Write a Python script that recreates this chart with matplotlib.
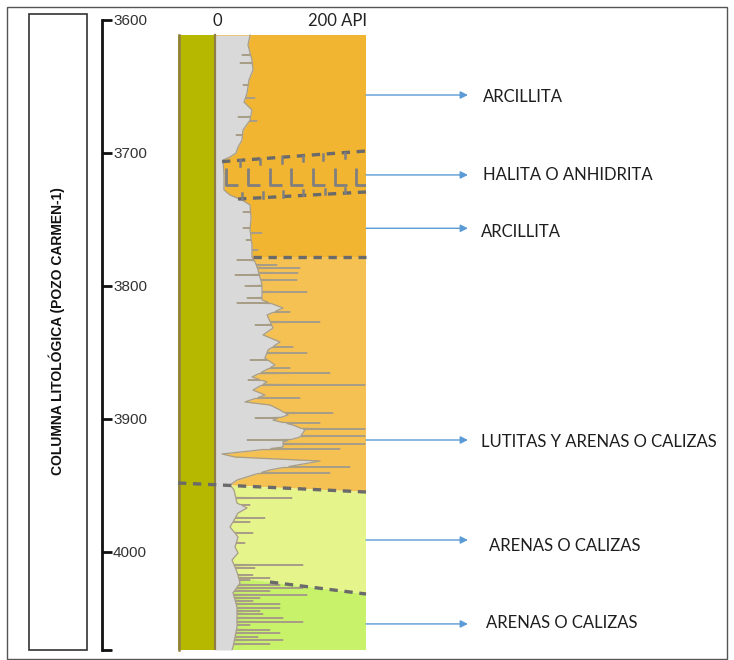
import matplotlib
matplotlib.use('Agg')
import matplotlib.pyplot as plt
from matplotlib.patches import Rectangle
import numpy as np

W, H = 734, 660
fig = plt.figure(figsize=(W / 100, H / 100), dpi=100)


def fx(px):
    return px / W


def fy(py):
    return 1 - py / H


# ---------------- data ----------------
depth_ticks = [3600, 3700, 3800, 3900, 4000]
depth_top, depth_bottom = 3600, 4073.7
log_top = 3611.3
strip_left = -49
api_max = 200

# gamma-ray envelope (depth m, API)
base_depth = [3611.3, 3618.8, 3630.1, 3637.6, 3645.1, 3654.9, 3661.7, 3667.7, 3675.2, 3682.7,
              3690.2, 3695.5, 3700.0, 3703.0, 3705.3, 3716.5, 3727.8, 3731.6, 3735.3, 3739.1,
              3748.9, 3757.9, 3769.2, 3778.2, 3781.9, 3788.0, 3799.2, 3810.5, 3816.5, 3821.8,
              3831.6, 3836.8, 3842.1, 3848.1, 3854.1, 3859.4, 3864.7, 3868.4, 3872.2, 3878.2,
              3882.0, 3887.2, 3889.5, 3893.2, 3897.0, 3900.8, 3904.5, 3908.3, 3913.5, 3917.3,
              3921.1, 3924.1, 3926.3, 3928.6, 3931.6, 3934.6, 3938.3, 3942.1, 3945.9, 3949.6,
              3953.4, 3963.2, 3966.9, 3970.7, 3981.2, 3988.7, 3996.2, 4000.8, 4006.0, 4015.0,
              4023.3, 4030.8, 4041.4, 4056.4, 4071.4, 4073.7]
base_api = [46.4, 43.7, 49.0, 50.3, 45.0, 42.4, 38.4, 49.0, 46.4, 37.1,
            35.8, 30.5, 27.8, 19.9, 10.6, 11.9, 11.9, 19.9, 35.8, 46.4,
            47.7, 46.4, 49.0, 49.0, 53.0, 57.0, 62.3, 62.3, 90.1, 68.9,
            76.8, 63.6, 86.1, 70.2, 66.2, 79.5, 62.3, 49.0, 68.9, 50.3,
            66.2, 39.7, 72.8, 86.1, 96.7, 76.8, 103.3, 119.2, 112.6, 90.1,
            90.1, 46.4, 9.3, 26.5, 139.1, 108.6, 72.8, 50.3, 29.1, 19.9,
            25.2, 29.1, 42.4, 30.5, 19.9, 30.5, 26.5, 30.5, 22.5, 29.1,
            33.1, 23.8, 29.1, 29.1, 23.8, 22.5]

# thin gamma-ray spikes (depth m, API)
spike_depth = [3626.3, 3632.3, 3648.9, 3658.6, 3672.9, 3675.9, 3686.5, 3744.4, 3756.4, 3760.2,
               3765.4, 3772.9, 3780.5, 3784.2, 3786.5, 3790.2, 3791.7, 3795.5, 3799.9, 3804.5,
               3809.0, 3812.8, 3819.5, 3827.1, 3829.3, 3845.9, 3850.4, 3855.6, 3861.7, 3865.5,
               3870.7, 3874.4, 3884.2, 3895.5, 3899.2, 3903.0, 3907.5, 3912.8, 3915.8, 3918.8,
               3922.6, 3936.1, 3940.6, 3959.4, 3964.7, 3974.4, 3977.4, 3985.7, 3993.2, 4009.8,
               4012.0, 4017.3, 4019.5, 4021.1, 4024.8, 4027.1, 4029.3, 4032.3, 4034.6, 4036.8,
               4039.1, 4042.1, 4044.4, 4046.6, 4049.6, 4052.6, 4054.9, 4058.6, 4060.9, 4063.9,
               4066.2, 4069.2]
spike_api = [35.8, 33.1, 37.1, 53.0, 30.5, 55.6, 27.8, 37.1, 37.1, 62.3,
             41.1, 57.0, 29.1, 82.1, 112.6, 109.9, 26.5, 108.6, 39.7, 121.9,
             42.4, 29.1, 99.3, 139.1, 53.0, 103.3, 121.9, 46.4, 99.3, 152.3,
             43.7, 198.7, 112.6, 156.3, 53.0, 139.1, 198.7, 198.7, 42.4, 198.7,
             165.6, 178.8, 152.3, 102.0, 46.4, 66.2, 46.4, 50.3, 39.7, 116.6,
             53.0, 50.3, 72.8, 46.4, 86.1, 116.6, 72.8, 121.9, 59.6, 50.3,
             86.1, 86.1, 59.6, 63.6, 90.1, 116.6, 46.4, 72.8, 86.1, 57.0,
             90.1, 72.8]
spike_half_width = 0.4

zone_colors = ['#F2B532', '#F5C152', '#E6F58B', '#C8F26A']

# boundaries: ([api_left, api_right], [depth_left, depth_right])
halita_top = ([9.3, 200], [3706.5, 3698.5])
halita_base = ([30.5, 200], [3734.6, 3729.3])
arcillita_base = ([50.3, 200], [3778.2, 3778.2])
lutitas_base = ([-49, 200], [3948.1, 3954.9])
arenas_base = ([72.8, 200], [4022.6, 4031.6])

halita_L_api = [14.6, 43.7, 72.8, 100.7, 129.8, 158.9, 186.8]
halita_L_depth = [3711.5, 3724.1]
halita_L_len = 16
halita_top_ticks = [33.1, 59.6, 88.7, 116.6, 143.0, 172.2]
halita_base_ticks = [35.8, 63.6, 90.1, 116.6, 145.7, 172.2]

label_texts = ['ARCILLITA', 'HALITA O ANHIDRITA', 'ARCILLITA',
               'LUTITAS Y ARENAS O CALIZAS', 'ARENAS O CALIZAS', 'ARENAS O CALIZAS']
arrow_depths = [3656.4, 3716.5, 3756.6, 3915.8, 3991.0, 4054.1]
label_depths = [3657.7, 3716.5, 3759.2, 3917.4, 3995.7, 4053.4]
label_api = [355, 355, 352, 352, 363, 359]
arrow_end_api = 335

title_text = 'COLUMNA LITOLÓGICA (POZO CARMEN-1)'

# ---------------- fonts / colours ----------------
txt_font = ['Lato', 'DejaVu Sans']
title_font = ['Liberation Sans', 'DejaVu Sans']
num_font = ['Liberation Sans Narrow', 'Liberation Sans', 'DejaVu Sans']
dash_color = '#6A6A6A'
dash_style = (0, (2.5, 2))


def line_at(bnd, api):
    a, d = bnd
    slope = (d[1] - d[0]) / (a[1] - a[0])
    return d[0] + slope * (api - a[0])


# build the log trace: envelope plus thin spikes
pts_d = list(base_depth)
pts_a = list(base_api)
for d, a in zip(spike_depth, spike_api):
    b0 = float(np.interp(d - spike_half_width, base_depth, base_api))
    b1 = float(np.interp(d + spike_half_width, base_depth, base_api))
    pts_d += [d - spike_half_width, d, d + spike_half_width]
    pts_a += [b0, a, b1]
order = np.argsort(pts_d, kind='stable')
gr_depth = np.array(pts_d)[order]
gr_api = np.array(pts_a)[order]

# ---------------- figure decoration ----------------
fig.patches.append(Rectangle((fx(7), fy(659)), fx(720), 652 / H, transform=fig.transFigure,
                             fill=False, edgecolor='#555555', lw=1.0))
fig.patches.append(Rectangle((fx(29), fy(650)), fx(58), 636 / H, transform=fig.transFigure,
                             fill=False, edgecolor='#333333', lw=1.2))
fig.text(fx(57), fy(331), title_text, rotation=90, ha='center', va='center',
         fontsize=10, fontweight='bold', family=title_font, color='#111111')

# ---------------- column axes ----------------
ax = fig.add_axes([fx(178), fy(650), fx(188), 630 / H])
ax.set_xlim(strip_left, api_max)
ax.set_ylim(depth_bottom, depth_top)
ax.set_axis_off()

# lithology zones
b_arc = line_at(arcillita_base, 0), line_at(arcillita_base, api_max)
b_lut = line_at(lutitas_base, 0), line_at(lutitas_base, api_max)
b_are = line_at(arenas_base, 0), line_at(arenas_base, api_max)
zones = [
    ([0, api_max, api_max, 0], [log_top, log_top, b_arc[1], b_arc[0]]),
    ([0, api_max, api_max, 0], [b_arc[0], b_arc[1], b_lut[1], b_lut[0]]),
    ([0, api_max, api_max, 0], [b_lut[0], b_lut[1], b_are[1], b_are[0]]),
    ([0, api_max, api_max, 0], [b_are[0], b_are[1], depth_bottom, depth_bottom]),
]
for (xs, ys), c in zip(zones, zone_colors):
    ax.fill(xs, ys, color=c, lw=0, zorder=1)

# green strip
ax.fill_betweenx([log_top, depth_bottom], strip_left, 0, color='#B6B800', lw=0, zorder=1)
ax.plot([strip_left + 1, strip_left + 1], [log_top, depth_bottom], color='#8F7F45', lw=1.8,
        clip_on=False, zorder=3)
ax.plot([0, 0], [log_top, depth_bottom], color='#8F7F45', lw=1.6, zorder=3)

# gamma ray log
ax.fill_betweenx(gr_depth, 0, gr_api, color='#D9D9D9', lw=0, zorder=2)
ax.plot(gr_api, gr_depth, color='#A89E88', lw=0.9, zorder=3)

# dashed contacts
for bnd in [halita_top, halita_base, arcillita_base, lutitas_base, arenas_base]:
    ax.plot(bnd[0], bnd[1], color=dash_color, lw=2.4, ls=dash_style, zorder=4,
            clip_on=False)

# halite / anhydrite pattern
for a in halita_L_api:
    ax.plot([a, a, a + halita_L_len], [halita_L_depth[0], halita_L_depth[1], halita_L_depth[1]],
            color='#808080', lw=2, zorder=4, solid_capstyle='butt')
for a in halita_top_ticks:
    d0 = line_at(halita_top, a)
    ax.plot([a, a], [d0, d0 + 4], color='#808080', lw=1.8, zorder=4)
for a in halita_base_ticks:
    d0 = line_at(halita_base, a)
    ax.plot([a, a], [d0, d0 - 4], color='#808080', lw=1.8, zorder=4)

# scale labels
ax.text(2.6, 3601, '0', ha='center', va='center', fontsize=12, family=txt_font,
        color='#222222', clip_on=False)
ax.text(201, 3601, '200 API', ha='right', va='center', fontsize=12, family=txt_font,
        color='#222222', clip_on=False)

# arrows and labels
for txt, da, dl, la in zip(label_texts, arrow_depths, label_depths, label_api):
    ax.annotate('', xy=(arrow_end_api, da), xytext=(api_max, da),
                arrowprops=dict(arrowstyle='-|>', color='#5B9BD5', lw=1.0,
                                mutation_scale=11, shrinkA=0, shrinkB=0),
                annotation_clip=False)
    ax.text(la, dl, txt, ha='left', va='center', fontsize=12, family=txt_font,
            color='#1E1E1E', clip_on=False)

# ---------------- depth axis ----------------
axd = fig.add_axes([fx(90), fy(650), fx(12), 630 / H])
axd.set_ylim(depth_bottom, depth_top)
axd.set_xlim(0, 1)
axd.patch.set_visible(False)
for s in ['left', 'top', 'bottom']:
    axd.spines[s].set_visible(False)
axd.spines['right'].set_linewidth(2)
axd.spines['right'].set_color('#111111')
axd.set_xticks([])
axd.yaxis.tick_right()
axd.set_yticks(depth_ticks)
axd.set_yticks([depth_bottom], minor=True)
axd.set_yticklabels([str(t) for t in depth_ticks], family=num_font, fontsize=11,
                    color='#333333')
axd.tick_params(axis='y', which='both', direction='out', length=7, width=2,
                color='#111111', pad=1)

fig.savefig('out.png', dpi=100)
